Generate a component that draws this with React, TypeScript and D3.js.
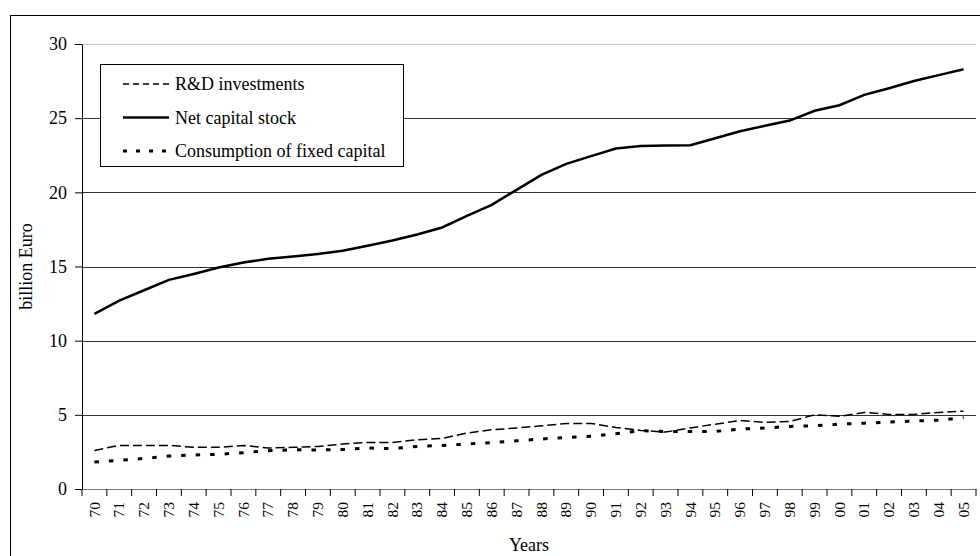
import React, { useEffect, useRef } from 'react';
import * as d3 from 'd3';

const years = ['70', '71', '72', '73', '74', '75', '76', '77', '78', '79', '80', '81', '82', '83', '84', '85', '86', '87',
  '88', '89', '90', '91', '92', '93', '94', '95', '96', '97', '98', '99', '00', '01', '02', '03', '04', '05'];

const rdInvestments = [2.60, 2.94, 2.94, 2.94, 2.81, 2.81, 2.94, 2.76, 2.81, 2.87, 3.03, 3.14, 3.14, 3.32, 3.41, 3.77,
  3.99, 4.11, 4.26, 4.42, 4.42, 4.15, 3.95, 3.84, 4.12, 4.37, 4.62, 4.49, 4.55, 5.0, 4.9, 5.16, 5.03, 5.03, 5.16, 5.25];

const netCapitalStock = [11.8, 12.7, 13.4, 14.1, 14.5, 14.93, 15.27, 15.52, 15.67, 15.85, 16.06, 16.4, 16.75, 17.16,
  17.63, 18.42, 19.16, 20.17, 21.18, 21.92, 22.44, 22.95, 23.13, 23.15, 23.18, 23.65, 24.12, 24.49, 24.84, 25.5,
  25.87, 26.57, 27.02, 27.5, 27.9, 28.3];

const consumptionFixed = [1.82, 1.93, 2.06, 2.22, 2.29, 2.34, 2.45, 2.58, 2.65, 2.63, 2.67, 2.76, 2.72, 2.87, 2.94,
  3.03, 3.12, 3.25, 3.37, 3.48, 3.55, 3.73, 3.93, 3.88, 3.88, 3.88, 4.04, 4.11, 4.22, 4.26, 4.37, 4.44, 4.51, 4.58,
  4.64, 4.82];

const yTicks = [0, 5, 10, 15, 20, 25, 30];

const seriesNames = ['R&D investments', 'Net capital stock', 'Consumption of fixed capital'];

const FONT = '"Liberation Serif", "Times New Roman", serif';

const App: React.FC = () => {
  const ref = useRef<SVGSVGElement>(null);

  useEffect(() => {
    const svg = d3.select(ref.current);
    svg.selectAll('*').remove();

    const margin = { top: 44, right: 4, bottom: 67, left: 82 };
    const W = 980, H = 556;
    const width = W - margin.left - margin.right;
    const height = H - margin.top - margin.bottom;

    // outer frame (right and bottom edges fall off the picture)
    svg.append('rect')
      .attr('x', 10.5).attr('y', 15.5)
      .attr('width', 980).attr('height', 560)
      .attr('fill', 'white').attr('stroke', '#000').attr('stroke-width', 1);

    const x = d3.scaleBand().domain(years).range([0, width]);
    const y = d3.scaleLinear().domain([0, 30]).range([height, 0]);

    const g = svg.append('g').attr('transform', `translate(${margin.left},${margin.top})`);

    // gridlines
    g.selectAll('.grid')
      .data(yTicks.filter(t => t > 0))
      .enter().append('line')
      .attr('x1', 0).attr('x2', width)
      .attr('y1', d => Math.round(y(d)) + 0.5).attr('y2', d => Math.round(y(d)) + 0.5)
      .attr('stroke', d => (d === 30 ? '#c8c8c8' : '#333'))
      .attr('stroke-width', 1);

    // y axis
    const yAxis = g.append('g')
      .call(d3.axisLeft(y).tickValues(yTicks).tickSize(7).tickPadding(8).tickSizeOuter(0));
    yAxis.select('.domain').attr('stroke', '#000');
    yAxis.selectAll('.tick line').attr('stroke', '#000');
    yAxis.selectAll('.tick text')
      .attr('font-family', FONT).attr('font-size', 18).attr('fill', '#000');

    // x axis
    const xAxis = g.append('g')
      .attr('transform', `translate(0,${height})`)
      .call(d3.axisBottom(x).tickSize(0).tickSizeOuter(0));
    xAxis.select('.domain').attr('stroke', '#777').attr('stroke-width', 1.2);
    xAxis.selectAll('.tick text')
      .attr('font-family', FONT).attr('font-size', 15.5).attr('fill', '#000')
      .attr('transform', 'rotate(-90)')
      .attr('text-anchor', 'end')
      .attr('x', -13).attr('y', 0).attr('dy', '0.33em');

    // tick marks at band boundaries
    g.selectAll('.xtick')
      .data(d3.range(years.length + 1))
      .enter().append('line')
      .attr('x1', i => i * x.bandwidth()).attr('x2', i => i * x.bandwidth())
      .attr('y1', height).attr('y2', height + 7)
      .attr('stroke', '#000');

    const cx = (i: number) => (x(years[i]) ?? 0) + x.bandwidth() / 2;
    const lineGen = d3.line<number>().x((_, i) => cx(i)).y(d => y(d));

    g.append('path').datum(netCapitalStock)
      .attr('d', lineGen).attr('fill', 'none')
      .attr('stroke', '#000').attr('stroke-width', 2.5);

    g.append('path').datum(rdInvestments)
      .attr('d', lineGen).attr('fill', 'none')
      .attr('stroke', '#000').attr('stroke-width', 1.5).attr('stroke-dasharray', '9,4');

    g.append('path').datum(consumptionFixed)
      .attr('d', lineGen).attr('fill', 'none')
      .attr('stroke', '#000').attr('stroke-width', 3).attr('stroke-dasharray', '4.5,10');

    // axis titles
    svg.append('text')
      .attr('x', margin.left + width / 2).attr('y', 551)
      .attr('text-anchor', 'middle')
      .attr('font-family', FONT).attr('font-size', 18)
      .text('Years');

    svg.append('text')
      .attr('transform', `translate(32,${margin.top + height / 2}) rotate(-90)`)
      .attr('text-anchor', 'middle')
      .attr('font-family', FONT).attr('font-size', 18)
      .text('billion Euro');

    // legend
    const legend = svg.append('g');
    legend.append('rect')
      .attr('x', 100.5).attr('y', 64.5).attr('width', 303).attr('height', 102)
      .attr('fill', 'white').attr('stroke', '#000');

    const styles = [
      { w: 1.5, dash: '6,4' },
      { w: 2.5, dash: null },
      { w: 3, dash: '4,9' },
    ];
    const rowY = [84, 117.5, 151];
    seriesNames.forEach((name, i) => {
      const l = legend.append('line')
        .attr('x1', 123).attr('x2', 169)
        .attr('y1', rowY[i]).attr('y2', rowY[i])
        .attr('stroke', '#000').attr('stroke-width', styles[i].w);
      if (styles[i].dash) l.attr('stroke-dasharray', styles[i].dash);
      legend.append('text')
        .attr('x', 175).attr('y', rowY[i]).attr('dy', '0.35em')
        .attr('font-family', FONT).attr('font-size', 18)
        .text(name);
    });
  }, []);

  return (
    <svg ref={ref} width={980} height={556}
      style={{ position: 'absolute', left: 0, top: 0, background: 'white' }} />
  );
};

export default App;
